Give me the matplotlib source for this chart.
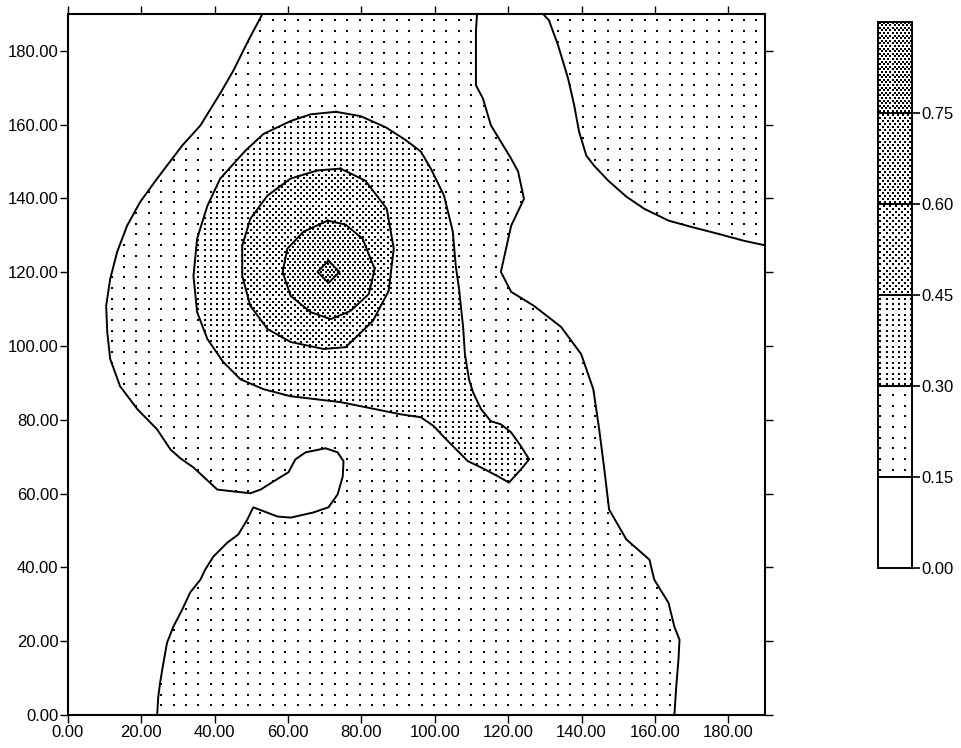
import numpy as np
import matplotlib
matplotlib.use('Agg')
import matplotlib.pyplot as plt
from matplotlib.patches import Polygon, Rectangle
from matplotlib.transforms import IdentityTransform

plt.rcParams['font.family'] = ['Liberation Sans', 'DejaVu Sans']

# contour levels and colour bar labels
levels = [0.00, 0.15, 0.30, 0.45, 0.60, 0.75, 0.90]
cbar_labels = ['0.00', '0.15', '0.30', '0.45', '0.60', '0.75']
ticks = [0, 20, 40, 60, 80, 100, 120, 140, 160, 180]

# 0.15 line, left side (top edge -> bottom edge)
left_x = [53.0, 49.2, 45.1, 41.5, 36.1, 31.1, 24.3, 19.7, 16.1, 13.4, 11.5, 10.4, 10.7,
          11.5, 14.2, 18.9, 24.3, 27.9, 30.6, 34.2, 40.7, 45.1, 49.7, 52.5, 56.0, 60.1,
          62.0, 64.8, 70.2, 73.5, 75.1, 74.9, 73.5, 71.0, 66.9, 60.7, 57.1, 50.5, 48.9,
          46.4, 43.4, 39.6, 37.4, 36.1, 33.3, 31.1, 28.7, 27.0, 26.0, 25.1, 24.6, 24.3]
left_y = [190.0, 182.9, 174.7, 168.5, 159.8, 154.3, 145.4, 139.1, 132.6, 125.5, 118.2,
          110.9, 103.8, 96.5, 89.1, 82.9, 77.4, 72.0, 69.6, 67.1, 61.1, 60.6, 60.1, 61.1,
          63.3, 65.8, 69.3, 71.2, 72.3, 71.2, 68.8, 64.7, 59.8, 56.3, 54.9, 53.5, 53.8,
          56.3, 53.0, 48.9, 46.7, 42.9, 39.4, 36.7, 33.2, 28.5, 23.9, 19.6, 14.1, 8.7,
          4.9, 0.0]

# 0.15 line, right side (top edge -> bottom edge)
right_x = [111.5, 111.2, 111.2, 113.1, 115.3, 120.8, 122.7, 124.3, 120.8, 118.0, 120.8,
           127.0, 134.4, 139.9, 143.2, 144.8, 146.2, 147.5, 152.2, 158.5, 159.8, 163.7,
           165.3, 166.7, 166.4, 165.8, 165.3]
right_y = [190.0, 185.3, 170.7, 167.1, 159.8, 150.8, 147.3, 139.9, 132.6, 120.1, 114.7,
           110.9, 105.2, 97.8, 88.3, 77.4, 66.6, 55.7, 47.6, 42.1, 36.7, 30.4, 23.9,
           20.4, 14.9, 7.6, 0.0]

# 0.15 line, top right corner (top edge -> right edge)
tr_x = [129.5, 131.1, 133.6, 136.3, 138.0, 139.3, 141.3, 143.4, 147.3, 152.2, 157.1,
        163.7, 169.9, 177.3, 184.4, 190.0]
tr_y = [190.0, 188.3, 181.5, 172.6, 165.2, 158.2, 151.6, 148.9, 144.8, 140.5, 137.2,
        134.0, 132.3, 130.4, 128.5, 127.3]

# 0.30 closed line
c30_x = [73.0, 66.1, 60.7, 53.3, 48.4, 41.5, 38.0, 35.2, 34.2, 35.2, 38.0, 42.3, 47.0,
         53.3, 60.7, 74.3, 90.7, 96.2, 99.7, 102.5, 106.3, 109.0, 112.6, 117.2, 120.2,
         123.5, 125.7, 123.5, 120.8, 118.0, 115.3, 112.6, 110.4, 109.3, 108.2, 107.7,
         106.6, 105.7, 104.9, 102.5, 98.9, 96.2, 92.1, 86.6, 79.8]
c30_y = [163.5, 162.8, 161.0, 157.5, 153.0, 145.4, 138.0, 129.1, 119.0, 109.2, 101.9,
         95.7, 91.0, 88.3, 86.4, 84.8, 81.5, 80.7, 78.3, 75.3, 71.5, 68.8, 67.1, 64.7,
         63.0, 66.6, 69.3, 72.8, 76.6, 78.8, 79.6, 82.9, 87.5, 91.0, 97.8, 105.2, 115.5,
         121.7, 131.0, 140.8, 148.1, 152.7, 155.8, 159.3, 162.3]

c45_x = [74.3, 68.0, 60.7, 54.4, 49.7, 47.5, 47.5, 49.7, 54.4, 60.7, 69.7, 75.7, 83.1,
         87.4, 88.8, 86.9, 81.1]
c45_y = [148.1, 147.6, 145.4, 140.8, 134.5, 127.2, 119.0, 110.9, 104.6, 101.1, 99.2,
         99.7, 106.8, 114.9, 126.4, 137.2, 144.8]

c60_x = [70.8, 64.2, 59.8, 58.5, 60.7, 66.1, 71.6, 77.0, 82.0, 83.6, 80.3, 75.7]
c60_y = [134.0, 131.0, 126.4, 120.1, 113.6, 109.2, 107.3, 109.5, 114.1, 120.9, 129.1,
         132.9]

c75_x = [71.0, 74.0, 71.0, 68.0]
c75_y = [123.1, 120.1, 117.1, 120.1]

# stipple per band: dot spacing x, y (pixels), dot size, staggered rows
bands = [None,
         (12.4, 10.7, 3.0, False),
         (6.2, 5.35, 2.6, False),
         (6.2, 3.1, 1.8, True),
         (5.0, 3.0, 1.1, True),
         (4.2, 2.6, 1.0, True)]

W, H = 961, 748
fig = plt.figure(figsize=(W / 100, H / 100), dpi=100)


def stipple(ax, patch, band, z):
    patch.set_facecolor('white')
    patch.set_edgecolor('none')
    patch.set_zorder(z)
    ax.add_patch(patch)
    if bands[band] is None:
        return
    dx, dy, s, stag = bands[band]
    X, Y = np.meshgrid(np.arange(0, W, dx), np.arange(0, H, dy))
    if stag:
        X[1::2] += dx / 2
    sc = ax.scatter(X.ravel(), Y.ravel(), s=s, c='k', marker='s', linewidths=0,
                    transform=IdentityTransform(), zorder=z + 0.5)
    sc.set_clip_path(patch)


ax = fig.add_axes([68 / W, 1 - 715 / H, 697 / W, 701 / H])

stipple(ax, Rectangle((0, 0), 190, 190), 1, 1)
stipple(ax, Polygon(list(zip(left_x + [0, 0], left_y + [0, 190]))), 0, 2)
stipple(ax, Polygon(list(zip(right_x + [190] + tr_x[::-1], right_y + [0] + tr_y[::-1]))), 0, 2)
stipple(ax, Polygon(list(zip(c30_x, c30_y))), 2, 3)
stipple(ax, Polygon(list(zip(c45_x, c45_y))), 3, 4)
stipple(ax, Polygon(list(zip(c60_x, c60_y))), 4, 5)
stipple(ax, Polygon(list(zip(c75_x, c75_y))), 5, 6)

lk = dict(color='k', lw=1.4, zorder=10)
ax.plot(left_x, left_y, **lk)
ax.plot(right_x, right_y, **lk)
ax.plot(tr_x, tr_y, **lk)
for cx, cy in [(c30_x, c30_y), (c45_x, c45_y), (c60_x, c60_y), (c75_x, c75_y)]:
    ax.plot(cx + cx[:1], cy + cy[:1], **lk)

ax.set_xlim(0, 190)
ax.set_ylim(0, 190)
ax.set_xticks(ticks)
ax.set_yticks(ticks)
ax.xaxis.set_major_formatter('{x:.2f}')
ax.yaxis.set_major_formatter('{x:.2f}')
ax.tick_params(direction='out', length=6, width=1, top=True, right=True,
               labelsize=12, pad=1)
for sp in ax.spines.values():
    sp.set_linewidth(1.5)

# colour bar
cax = fig.add_axes([878 / W, 1 - 568 / H, 34 / W, 546 / H])
for i in range(len(levels) - 1):
    stipple(cax, Rectangle((0, levels[i]), 1, levels[i + 1] - levels[i]), i, 1)
for lev in levels[1:-1]:
    cax.axhline(lev, color='k', lw=1.4, zorder=10)
cax.set_xlim(0, 1)
cax.set_ylim(0, 0.9)
cax.set_xticks([])
cax.yaxis.tick_right()
cax.set_yticks(levels[:-1])
cax.set_yticklabels(cbar_labels)
cax.tick_params(axis='y', direction='out', length=6, width=1.2, labelsize=12, pad=1)
for sp in cax.spines.values():
    sp.set_linewidth(1.4)

fig.savefig('out.png', dpi=100)
